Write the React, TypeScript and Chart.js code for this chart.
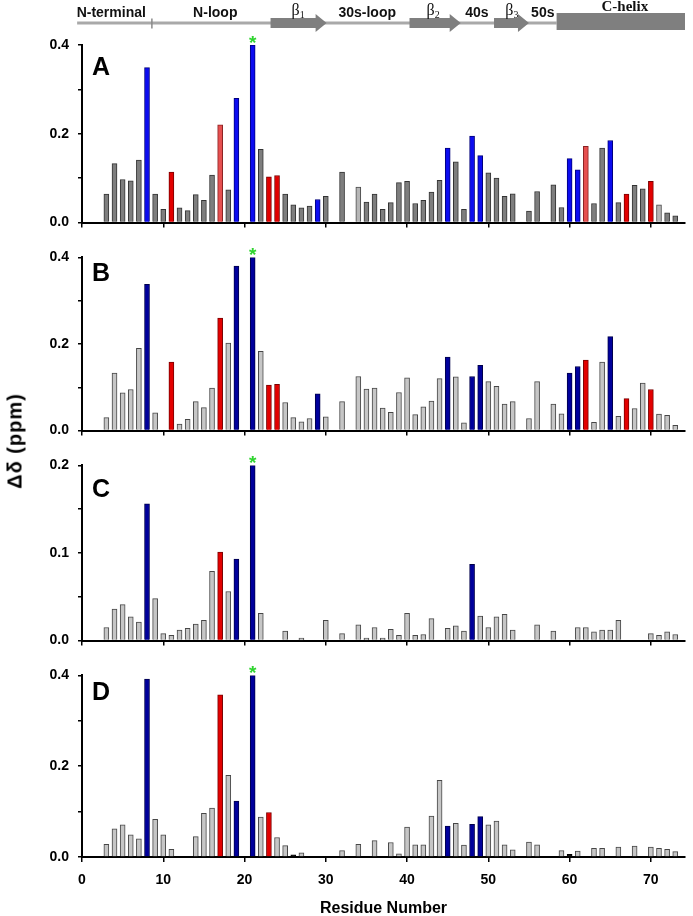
import React, { useEffect, useRef } from "react";
import { Chart, registerables } from "chart.js";

Chart.register(...registerables);

// ---------- DATA ----------
const residues = [
  3, 4, 5, 6, 7, 8, 9, 10, 11, 12,
  13, 14, 15, 16, 17, 18, 19, 20, 21, 22,
  23, 24, 25, 26, 27, 28, 29, 30, 31, 32,
  33, 34, 35, 36, 37, 38, 39, 40, 41, 42,
  43, 44, 45, 46, 47, 48, 49, 50, 51, 52,
  53, 54, 55, 56, 57, 58, 59, 60, 61, 62,
  63, 64, 65, 66, 67, 68, 69, 70, 71, 72,
  73,
];

const shiftA = [
  0.064, 0.133, 0.097, 0.094, 0.141, 0.349, 0.064, 0.030, 0.114, 0.033,
  0.027, 0.063, 0.050, 0.107, 0.220, 0.074, 0.280, null, 0.400, 0.165,
  0.103, 0.106, 0.064, 0.040, 0.033, 0.037, 0.052, 0.059, null, 0.114,
  null, 0.080, 0.046, 0.064, 0.030, 0.045, 0.090, 0.093, 0.043, 0.050,
  0.069, 0.095, 0.168, 0.137, 0.030, 0.195, 0.151, 0.112, 0.100, 0.059,
  0.065, null, 0.026, 0.070, null, 0.085, 0.034, 0.144, 0.119, 0.172,
  0.043, 0.168, 0.185, 0.045, 0.064, 0.084, 0.076, 0.093, 0.040, 0.022,
  0.015,
];

const shiftB = [
  0.030, 0.133, 0.087, 0.095, 0.190, 0.338, 0.041, null, 0.158, 0.015,
  0.026, 0.067, 0.053, 0.098, 0.260, 0.202, 0.380, null, 0.400, 0.183,
  0.105, 0.107, 0.065, 0.030, 0.020, 0.028, 0.085, 0.032, null, 0.067,
  null, 0.125, 0.096, 0.098, 0.052, 0.042, 0.088, 0.122, 0.037, 0.055,
  0.068, 0.120, 0.170, 0.124, 0.018, 0.125, 0.151, 0.113, 0.102, 0.061,
  0.067, null, 0.028, 0.113, null, 0.061, 0.039, 0.133, 0.148, 0.163,
  0.019, 0.158, 0.217, 0.033, 0.074, 0.051, 0.110, 0.095, 0.038, 0.035,
  0.012,
];

const shiftC = [
  0.015, 0.036, 0.041, 0.027, 0.021, 0.156, 0.048, 0.008, 0.006, 0.012,
  0.014, 0.019, 0.023, 0.079, 0.101, 0.056, 0.093, null, 0.200, 0.031,
  null, null, 0.011, null, 0.003, null, null, 0.023, null, 0.008,
  null, 0.018, 0.003, 0.015, 0.003, 0.013, 0.006, 0.031, 0.006, 0.007,
  0.025, null, 0.014, 0.017, 0.011, 0.087, 0.028, 0.015, 0.027, 0.030,
  0.012, null, null, 0.018, null, 0.011, null, null, 0.015, 0.015,
  0.010, 0.012, 0.012, 0.023, null, null, null, 0.008, 0.006, 0.010,
  0.007,
];

const shiftD = [
  0.028, 0.062, 0.071, 0.049, 0.040, 0.392, 0.083, 0.049, 0.017, null,
  null, 0.045, 0.096, 0.108, 0.357, 0.180, 0.123, null, 0.400, 0.088,
  0.098, 0.043, 0.025, 0.005, 0.009, null, null, null, null, 0.014,
  null, 0.028, null, 0.036, null, 0.032, 0.007, 0.066, 0.027, 0.027,
  0.090, 0.169, 0.068, 0.074, 0.026, 0.072, 0.089, 0.071, 0.079, 0.027,
  0.016, null, 0.033, 0.027, null, null, 0.014, 0.006, 0.013, null,
  0.019, 0.019, null, 0.022, null, 0.024, null, 0.022, 0.019, 0.017,
  0.012,
];

// residue groups highlighted in each panel
const blueA = [8, 19, 21, 29, 45, 48, 49, 60, 61, 65];
const redA = [11, 23, 24, 67, 70];
const paleRedA = [17, 62];
const paleGrayA = [34, 71];
const blueB = [8, 19, 21, 29, 45, 48, 49, 60, 61, 65];
const redB = [11, 17, 23, 24, 62, 67, 70];
const blueC = [8, 19, 21, 48];
const redC = [17];
const blueD = [8, 19, 21, 45, 48, 49];
const redD = [17, 23];
const blackD = [26, 60];

const markedResidue = 21;

// secondary-structure header (residue ranges)
const headerSpan = [-0.6, 58.4];
const loopDivider = 8.6;
const strands = [
  [23.2, 30.1],
  [40.3, 46.6],
  [50.7, 55.0],
];
const helixSpan = [58.4, 74.2];
const loopLabels = ["N-terminal", "N-loop", "30s-loop", "40s", "50s"];
const loopLabelAt = [3.6, 16.4, 35.1, 48.6, 56.7];
const strandSubs = ["1", "2", "3"];
const strandLabelAt = [26.6, 43.2, 52.9];
const helixLabel = "C-helix";
const helixLabelAt = 66.8;

// ---------- STYLE ----------
const SANS = '"Liberation Sans", Arial, Helvetica, sans-serif';
const SERIF = '"Liberation Serif", "Times New Roman", serif';

type Colors = [string, string];
const GRAY_A: Colors = ["#7e7e7e", "#333333"];
const PALEGRAY_A: Colors = ["#b6b6b6", "#4a4a4a"];
const BLUE_A: Colors = ["#0c0cf0", "#00007a"];
const RED_A: Colors = ["#e20000", "#7a0000"];
const PALERED_A: Colors = ["#e65050", "#8a2020"];
const GRAY: Colors = ["#c6c6c6", "#474747"];
const BLUE: Colors = ["#00009c", "#00004a"];
const RED: Colors = ["#e30000", "#7a0000"];
const BLACK: Colors = ["#111111", "#000000"];

type Panel = {
  letter: string;
  values: (number | null)[];
  yMax: number;
  yStep: number;
  labelEvery: number;
  colorOf: (r: number) => Colors;
  top: number;
  height: number;
  padTop: number;
  xHeight: number;
  showX: boolean;
  letterBase: number;
  header: boolean;
};

const panels: Panel[] = [
  {
    letter: "A",
    values: shiftA,
    yMax: 0.4,
    yStep: 0.1,
    labelEvery: 0.2,
    colorOf: (r) =>
      blueA.includes(r)
        ? BLUE_A
        : redA.includes(r)
        ? RED_A
        : paleRedA.includes(r)
        ? PALERED_A
        : paleGrayA.includes(r)
        ? PALEGRAY_A
        : GRAY_A,
    top: 0,
    height: 240,
    padTop: 45,
    xHeight: 13,
    showX: false,
    letterBase: 30,
    header: true,
  },
  {
    letter: "B",
    values: shiftB,
    yMax: 0.4,
    yStep: 0.1,
    labelEvery: 0.2,
    colorOf: (r) => (blueB.includes(r) ? BLUE : redB.includes(r) ? RED : GRAY),
    top: 240,
    height: 208,
    padTop: 13,
    xHeight: 11,
    showX: false,
    letterBase: 24,
    header: false,
  },
  {
    letter: "C",
    values: shiftC,
    yMax: 0.2,
    yStep: 0.05,
    labelEvery: 0.1,
    colorOf: (r) => (blueC.includes(r) ? BLUE : redC.includes(r) ? RED : GRAY),
    top: 448,
    height: 210,
    padTop: 17,
    xHeight: 10,
    showX: false,
    letterBase: 32,
    header: false,
  },
  {
    letter: "D",
    values: shiftD,
    yMax: 0.4,
    yStep: 0.1,
    labelEvery: 0.2,
    colorOf: (r) =>
      blueD.includes(r) ? BLUE : redD.includes(r) ? RED : blackD.includes(r) ? BLACK : GRAY,
    top: 658,
    height: 260,
    padTop: 15,
    xHeight: 61,
    showX: true,
    letterBase: 25,
    header: false,
  },
];

const headerPlugin = {
  id: "structureHeader",
  afterDraw(chart: any) {
    const ctx = chart.ctx as CanvasRenderingContext2D;
    const xs = chart.scales.x;
    const px = (r: number) => xs.getPixelForValue(r);
    ctx.save();
    // backbone line
    ctx.strokeStyle = "#a9a9a9";
    ctx.lineWidth = 3;
    ctx.beginPath();
    ctx.moveTo(px(headerSpan[0]), 23);
    ctx.lineTo(px(headerSpan[1]), 23);
    ctx.stroke();
    ctx.lineWidth = 1.5;
    ctx.strokeStyle = "#8a8a8a";
    ctx.beginPath();
    ctx.moveTo(px(loopDivider), 18.5);
    ctx.lineTo(px(loopDivider), 28.5);
    ctx.stroke();
    // strands
    ctx.fillStyle = "#7f7f7f";
    strands.forEach(([a, b]) => {
      const x0 = px(a);
      const x1 = px(b);
      const hx = x1 - 11;
      ctx.beginPath();
      ctx.moveTo(x0, 18);
      ctx.lineTo(hx, 18);
      ctx.lineTo(hx, 14);
      ctx.lineTo(x1, 23);
      ctx.lineTo(hx, 32);
      ctx.lineTo(hx, 28);
      ctx.lineTo(x0, 28);
      ctx.closePath();
      ctx.fill();
    });
    // helix
    const h0 = px(helixSpan[0]);
    const h1 = px(helixSpan[1]);
    ctx.fillRect(h0, 13, h1 - h0, 17);
    // labels
    ctx.fillStyle = "#111";
    ctx.textAlign = "center";
    ctx.textBaseline = "middle";
    ctx.font = `bold 14px ${SANS}`;
    loopLabels.forEach((t, i) => ctx.fillText(t, px(loopLabelAt[i]), 13));
    ctx.font = `bold 15px ${SERIF}`;
    ctx.fillText(helixLabel, px(helixLabelAt), 7);
    strandSubs.forEach((s, i) => {
      ctx.font = `16px ${SERIF}`;
      const wb = ctx.measureText("\u03b2").width;
      ctx.font = `10px ${SERIF}`;
      const ws = ctx.measureText(s).width;
      const cx = px(strandLabelAt[i]);
      const start = cx - (wb + ws) / 2;
      ctx.textAlign = "left";
      ctx.font = `16px ${SERIF}`;
      ctx.fillText("\u03b2", start, 11);
      ctx.font = `10px ${SERIF}`;
      ctx.fillText(s, start + wb, 15);
      ctx.textAlign = "center";
    });
    ctx.restore();
  },
};

function makeDeco(p: Panel) {
  return {
    id: "panelDeco",
    afterDraw(chart: any) {
      const ctx = chart.ctx as CanvasRenderingContext2D;
      const area = chart.chartArea;
      const xs = chart.scales.x;
      ctx.save();
      ctx.fillStyle = "#000";
      ctx.font = `bold 25px ${SANS}`;
      ctx.textAlign = "left";
      ctx.textBaseline = "alphabetic";
      ctx.fillText(p.letter, area.left + 10, area.top + p.letterBase);
      ctx.fillStyle = "#2fd42f";
      ctx.font = `bold 19px ${SANS}`;
      ctx.textAlign = "center";
      ctx.fillText("*", xs.getPixelForValue(markedResidue), area.top + 4);
      ctx.restore();
    },
  };
}

function PanelChart({ p }: { p: Panel }) {
  const ref = useRef<HTMLCanvasElement>(null);
  useEffect(() => {
    const pts: { x: number; y: number }[] = [];
    const bg: string[] = [];
    const bd: string[] = [];
    residues.forEach((r, i) => {
      const v = p.values[i];
      if (v === null || v === undefined) return;
      pts.push({ x: r, y: v });
      const [f, b] = p.colorOf(r);
      bg.push(f);
      bd.push(b);
    });
    const tickFont = { family: SANS, size: 14, weight: "bold" as const };
    const chart = new Chart(ref.current as HTMLCanvasElement, {
      type: "bar",
      data: {
        datasets: [
          {
            data: pts as any,
            backgroundColor: bg,
            borderColor: bd,
            borderWidth: 1,
            barThickness: 5,
          },
        ],
      },
      options: {
        animation: false,
        responsive: false,
        devicePixelRatio: 1,
        layout: { padding: { top: p.padTop, right: 8, bottom: 0, left: 0 } },
        plugins: { legend: { display: false }, tooltip: { enabled: false } },
        scales: {
          x: {
            type: "linear",
            min: 0,
            max: 74.2,
            offset: false,
            afterFit: (s: any) => {
              s.height = p.xHeight;
            },
            grid: {
              drawOnChartArea: false,
              offset: false,
              tickLength: 5,
              color: "#000",
              lineWidth: 1.5,
            },
            border: { color: "#000", width: 2 },
            ticks: {
              display: p.showX,
              stepSize: 10,
              includeBounds: false,
              autoSkip: false,
              maxRotation: 0,
              color: "#000",
              font: tickFont,
              padding: 10,
            },
            title: {
              display: p.showX,
              text: "Residue Number",
              color: "#000",
              font: { family: SANS, size: 16, weight: "bold" },
              padding: { top: 0, bottom: 0 },
            },
          } as any,
          y: {
            min: 0,
            max: p.yMax,
            afterFit: (s: any) => {
              s.width = 82;
            },
            grid: {
              drawOnChartArea: false,
              tickLength: 4,
              color: "#000",
              lineWidth: 1.5,
            },
            border: { color: "#000", width: 2 },
            ticks: {
              stepSize: p.yStep,
              padding: 9,
              color: "#000",
              font: tickFont,
              autoSkip: false,
              callback: (v: any) => {
                const q = Number(v) / p.labelEvery;
                return Math.abs(q - Math.round(q)) < 1e-6 ? Number(v).toFixed(1) : "";
              },
            },
          } as any,
        },
      },
      plugins: p.header ? [headerPlugin, makeDeco(p)] : [makeDeco(p)],
    });
    return () => chart.destroy();
  }, []);
  return (
    <canvas
      ref={ref}
      width={693}
      height={p.height}
      style={{ position: "absolute", left: 0, top: p.top, width: 693, height: p.height }}
    />
  );
}

export default function App() {
  return (
    <div
      style={{
        position: "absolute",
        left: 0,
        top: 0,
        width: 693,
        height: 916,
        background: "#fff",
        overflow: "hidden",
      }}
    >
      {panels.map((p) => (
        <PanelChart key={p.letter} p={p} />
      ))}
      <div
        style={{
          position: "absolute",
          left: 15,
          top: 441,
          transform: "translate(-50%, -50%) rotate(-90deg)",
          whiteSpace: "nowrap",
          font: `bold 20px ${SANS}`,
          letterSpacing: "1px",
          color: "#000",
        }}
      >
        Δδ (ppm)
      </div>
    </div>
  );
}
